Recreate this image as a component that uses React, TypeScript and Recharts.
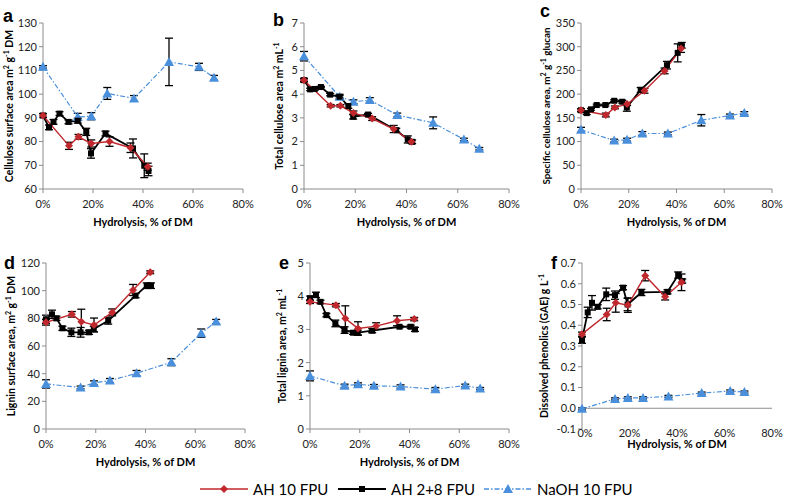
import React from 'react';
import { LineChart, Line, XAxis, YAxis, ErrorBar, ReferenceLine } from 'recharts';

// ---------- Data ----------
const seriesNames = ['AH 10 FPU', 'AH 2+8 FPU', 'NaOH 10 FPU'];
const xTicks = [0, 20, 40, 60, 80];

// hydrolysis (% of DM) per series
const xAH10 = [0, 10.4, 14.2, 19.3, 26.6, 35.0, 41.9];
const xAH28 = [0, 2.4, 4.2, 6.6, 10.2, 13.9, 17.3, 19.2, 25.0, 36.0, 40.5, 42.2];
const xNaOH = [0, 13.9, 19.3, 25.7, 36.4, 50.4, 62.4, 68.4];

// a: cellulose surface area
const aAH10 = [91, 78.2, 82, 79.2, 80, 77.4, 69.4];
const aAH10Err = [0.8, 1.5, 1, 1.5, 2, 2, 1.5];
const aAH28 = [91, 86, 88.3, 91.8, 88.3, 88.8, 84.1, 75, 83.4, 77.1, 69.8, 67.6];
const aAH28Err = [0.8, 1, 1, 0.8, 0.8, 1, 1.5, 2, 1, 4, 5, 2];
const aNaOH = [111.5, 90.4, 90.7, 100.3, 98.2, 113.6, 111.5, 106.9];
const aNaOHErr = [0.5, 1.5, 1.5, 2.5, 1.2, 10, 1.5, 1];

// b: total cellulose area
const bAH10 = [4.59, 3.51, 3.51, 3.21, 2.97, 2.53, 1.99];
const bAH10Err = [0.05, 0.05, 0.05, 0.08, 0.08, 0.15, 0.05];
const bAH28 = [4.59, 4.2, 4.22, 4.3, 3.98, 3.89, 3.5, 3.05, 3.14, 2.48, 2.09, 1.99];
const bAH28Err = [0.08, 0.05, 0.05, 0.03, 0.05, 0.05, 0.1, 0.1, 0.05, 0.08, 0.15, 0.08];
const bNaOH = [5.6, 3.89, 3.68, 3.75, 3.12, 2.79, 2.09, 1.7];
const bNaOHErr = [0.2, 0.1, 0.08, 0.1, 0.08, 0.25, 0.05, 0.05];

// c: specific cellulose area
const cAH10 = [166, 156, 172, 179, 207, 249, 296];
const cAH10Err = [3, 4, 3, 3, 5, 6, 8];
const cAH28 = [166, 160, 168, 177, 177, 186, 184, 172, 209, 261, 287, 303];
const cAH28Err = [3, 3, 2, 2, 2, 2, 3, 8, 5, 8, 19, 6];
const cNaOH = [125, 102, 104, 117, 117, 145, 155, 160];
const cNaOHErr = [5, 3, 3, 4, 3, 12, 3, 3];

// d: lignin surface area
const dAH10 = [77.1, 82.9, 77.6, 75.2, 84.3, 100.5, 113.3];
const dAH10Err = [2, 2, 9, 5, 2.5, 4, 1];
const dAH28 = [79.3, 82.9, 80, 72.8, 69.9, 69.9, 69.9, 72.3, 78.3, 96.4, 103.6, 103.6];
const dAH28Err = [3, 3, 1.5, 1.5, 3, 3.5, 1.5, 2, 2.5, 1.5, 2, 2];
const dNaOH = [32.6, 30, 33.3, 35, 40.3, 48.3, 69.3, 77.7];
const dNaOHErr = [3, 1, 1.5, 1.5, 2, 2.5, 3, 1.5];

// e: total lignin area
const eAH10 = [3.83, 3.73, 3.33, 3.03, 3.1, 3.26, 3.31];
const eAH10Err = [0.05, 0.05, 0.38, 0.2, 0.1, 0.15, 0.05];
const eAH28 = [3.94, 4.04, 3.83, 3.43, 3.18, 2.98, 2.9, 2.9, 2.96, 3.08, 3.08, 3.0];
const eAH28Err = [0.06, 0.08, 0.05, 0.05, 0.1, 0.1, 0.05, 0.08, 0.06, 0.03, 0.05, 0.06];
const eNaOH = [1.6, 1.3, 1.35, 1.3, 1.28, 1.2, 1.31, 1.22];
const eNaOHErr = [0.15, 0.05, 0.04, 0.04, 0.05, 0.05, 0.04, 0.03];

// f: dissolved phenolics
const fAH10 = [0.357, 0.452, 0.508, 0.497, 0.639, 0.537, 0.607];
const fAH10Err = [0.01, 0.03, 0.045, 0.035, 0.025, 0.015, 0.04];
const fAH28 = [0.328, 0.462, 0.508, 0.489, 0.549, 0.545, 0.581, 0.5, 0.558, 0.561, 0.642, 0.613];
const fAH28Err = [0.015, 0.025, 0.035, 0.01, 0.03, 0.02, 0.01, 0.03, 0.015, 0.01, 0.015, 0.01];
const fNaOH = [-0.003, 0.045, 0.05, 0.05, 0.057, 0.073, 0.083, 0.078];
const fNaOHErr = [0.005, 0.005, 0.005, 0.005, 0.005, 0.005, 0.005, 0.005];

// ---------- helpers ----------
const zip = (xs: number[], ys: number[], es: number[]) =>
  xs.map((x, i) => ({ x, y: ys[i], e: es[i] }));

const RED = '#C0282D';
const BLACK = '#000000';
const BLUE = '#4A8FDB';
const AXIS = '#8c8c8c';
const FONT = 'Lato, "Open Sans", sans-serif';

const Diamond = (p: any) => {
  const { cx, cy, index } = p;
  if (cx == null || cy == null) return <g key={index} />;
  return (
    <polygon key={index} points={`${cx},${cy - 4} ${cx + 4},${cy} ${cx},${cy + 4} ${cx - 4},${cy}`} fill={RED} />
  );
};
const Square = (p: any) => {
  const { cx, cy, index } = p;
  if (cx == null || cy == null) return <g key={index} />;
  return <rect key={index} x={cx - 3} y={cy - 3} width={6} height={6} fill={BLACK} />;
};
const Triangle = (p: any) => {
  const { cx, cy, index } = p;
  if (cx == null || cy == null) return <g key={index} />;
  return (
    <polygon key={index} points={`${cx},${cy - 5} ${cx + 5},${cy + 4} ${cx - 5},${cy + 4}`} fill={BLUE} />
  );
};

type PanelCfg = {
  letter: string;
  title: React.ReactNode;
  titleSize: number;
  domain: [number, number];
  ticks: number[];
  dec: number;
  red: number[]; redE: number[];
  black: number[]; blackE: number[];
  blue: number[]; blueE: number[];
  box: { l: number; r: number; t: number; b: number };
  xTickOff: number;
  xTitleY: number;
  yTitleX: number;
  letterPos: [number, number];
  zeroLine?: boolean;
};

const sup = (s: string) => (
  <span style={{ fontSize: 7, verticalAlign: 'super', lineHeight: 0 }}>{s}</span>
);

const panels: PanelCfg[] = [
  {
    letter: 'a',
    title: <>Cellulose surface area m{sup('2')} g{sup('-1')} DM</>, titleSize: 10.5,
    domain: [60, 130], ticks: [60, 70, 80, 90, 100, 110, 120, 130], dec: 0,
    red: aAH10, redE: aAH10Err, black: aAH28, blackE: aAH28Err, blue: aNaOH, blueE: aNaOHErr,
    box: { l: 43, r: 243, t: 23, b: 189 }, xTickOff: 8, xTitleY: 222, yTitleX: 9, letterPos: [3, 24],
  },
  {
    letter: 'b',
    title: <>Total cellulose area m{sup('2')} mL{sup('-1')}</>, titleSize: 10.5,
    domain: [0, 7], ticks: [0, 1, 2, 3, 4, 5, 6, 7], dec: 0,
    red: bAH10, redE: bAH10Err, black: bAH28, blackE: bAH28Err, blue: bNaOH, blueE: bNaOHErr,
    box: { l: 304, r: 509, t: 23, b: 189 }, xTickOff: 8, xTitleY: 222, yTitleX: 279, letterPos: [273, 28],
  },
  {
    letter: 'c',
    title: <>Specific cellulose area, m{sup('2')} g{sup('-1')} glucan</>, titleSize: 9.8,
    domain: [0, 350], ticks: [0, 50, 100, 150, 200, 250, 300, 350], dec: 0,
    red: cAH10, redE: cAH10Err, black: cAH28, blackE: cAH28Err, blue: cNaOH, blueE: cNaOHErr,
    box: { l: 581, r: 772, t: 23, b: 189 }, xTickOff: 8, xTitleY: 222, yTitleX: 546, letterPos: [540, 19],
  },
  {
    letter: 'd',
    title: <>Lignin surface area, m{sup('2')} g{sup('-1')} DM</>, titleSize: 10.5,
    domain: [0, 120], ticks: [0, 20, 40, 60, 80, 100, 120], dec: 0,
    red: dAH10, redE: dAH10Err, black: dAH28, blackE: dAH28Err, blue: dNaOH, blueE: dNaOHErr,
    box: { l: 46, r: 245, t: 263, b: 429 }, xTickOff: 8, xTitleY: 462, yTitleX: 11, letterPos: [4, 271],
  },
  {
    letter: 'e',
    title: <>Total lignin area, m{sup('2')} mL{sup('-1')}</>, titleSize: 10.5,
    domain: [0, 5], ticks: [0, 1, 2, 3, 4, 5], dec: 0,
    red: eAH10, redE: eAH10Err, black: eAH28, blackE: eAH28Err, blue: eNaOH, blueE: eNaOHErr,
    box: { l: 310, r: 509, t: 263, b: 429 }, xTickOff: 8, xTitleY: 462, yTitleX: 282, letterPos: [279, 271],
  },
  {
    letter: 'f',
    title: <>Dissolved phenolics (GAE) g L{sup('-1')}</>, titleSize: 10.5,
    domain: [-0.1, 0.7], ticks: [-0.1, 0, 0.1, 0.2, 0.3, 0.4, 0.5, 0.6, 0.7], dec: 1,
    red: fAH10, redE: fAH10Err, black: fAH28, blackE: fAH28Err, blue: fNaOH, blueE: fNaOHErr,
    box: { l: 582, r: 772, t: 263, b: 429 }, xTickOff: -3, xTitleY: 444, yTitleX: 544, letterPos: [551, 271],
    zeroLine: true,
  },
];

const YW = 40;
const MT = 8;
const MR = 16;
const XH = 30;

function Panel({ cfg }: { cfg: PanelCfg }) {
  const { l, r, t, b } = cfg.box;
  const w = YW + (r - l) + MR;
  const h = MT + (b - t) + XH;
  const redData = zip(xAH10, cfg.red, cfg.redE);
  const blackData = zip(xAH28, cfg.black, cfg.blackE);
  const blueData = zip(xNaOH, cfg.blue, cfg.blueE);
  const XTick = (p: any) => (
    <text
      x={p.x + (cfg.zeroLine && p.payload.value === 0 ? 3 : 0)}
      y={p.y + cfg.xTickOff}
      textAnchor="middle"
      dominantBaseline="central"
      fontSize={11}
      fontFamily={FONT}
      fill="#222"
    >
      {p.payload.value}%
    </text>
  );
  return (
    <div style={{ position: 'absolute', left: l - YW, top: t - MT }}>
      <LineChart width={w} height={h} margin={{ top: MT, right: MR, bottom: 0, left: 0 }}>
        <XAxis
          type="number"
          dataKey="x"
          domain={[0, 80]}
          ticks={xTicks}
          height={XH}
          axisLine={cfg.zeroLine ? false : { stroke: AXIS }}
          tickLine={cfg.zeroLine ? false : { stroke: AXIS }}
          tickSize={4}
          tickMargin={2}
          tick={XTick}
          interval={0}
        />
        <YAxis
          type="number"
          domain={cfg.domain}
          ticks={cfg.ticks}
          width={YW}
          axisLine={{ stroke: AXIS }}
          tickLine={{ stroke: AXIS }}
          tickSize={4}
          tickMargin={2}
          interval={0}
          tickFormatter={(v: number) => v.toFixed(cfg.dec)}
          tick={{ fontSize: 11, fontFamily: FONT, fill: '#222' }}
        />
        {cfg.zeroLine && <ReferenceLine y={0} stroke={AXIS} />}
        <Line
          data={blueData}
          dataKey="y"
          name={seriesNames[2]}
          stroke={BLUE}
          strokeWidth={1.2}
          strokeDasharray="5 2 1.5 2"
          dot={Triangle}
          activeDot={false}
          isAnimationActive={false}
        >
          <ErrorBar dataKey="e" direction="y" width={4} stroke="#000" strokeWidth={1.3} />
        </Line>
        <Line
          data={blackData}
          dataKey="y"
          name={seriesNames[1]}
          stroke={BLACK}
          strokeWidth={1.8}
          dot={Square}
          activeDot={false}
          isAnimationActive={false}
        >
          <ErrorBar dataKey="e" direction="y" width={4} stroke="#000" strokeWidth={1.3} />
        </Line>
        <Line
          data={redData}
          dataKey="y"
          name={seriesNames[0]}
          stroke={RED}
          strokeWidth={1.4}
          dot={Diamond}
          activeDot={false}
          isAnimationActive={false}
        >
          <ErrorBar dataKey="e" direction="y" width={4} stroke="#000" strokeWidth={1.3} />
        </Line>
      </LineChart>
    </div>
  );
}

function Titles({ cfg }: { cfg: PanelCfg }) {
  const { l, r, t, b } = cfg.box;
  return (
    <>
      <div
        style={{
          position: 'absolute',
          left: cfg.letterPos[0],
          top: cfg.letterPos[1] - 17,
          fontFamily: '"Liberation Sans", Arial, sans-serif',
          fontWeight: 'bold',
          fontSize: 18,
          lineHeight: '18px',
        }}
      >
        {cfg.letter}
      </div>
      <div
        style={{
          position: 'absolute',
          left: (l + r) / 2,
          top: cfg.xTitleY,
          transform: 'translate(-50%, -50%)',
          whiteSpace: 'nowrap',
          fontFamily: FONT,
          fontWeight: 'bold',
          fontSize: 11,
          lineHeight: '12px',
        }}
      >
        Hydrolysis, % of DM
      </div>
      <div
        style={{
          position: 'absolute',
          left: cfg.yTitleX,
          top: (t + b) / 2,
          transform: 'translate(-50%, -50%) rotate(-90deg)',
          whiteSpace: 'nowrap',
          fontFamily: FONT,
          fontWeight: 'bold',
          fontSize: cfg.titleSize,
          lineHeight: '12px',
        }}
      >
        {cfg.title}
      </div>
    </>
  );
}

function LegendBox() {
  const items = [
    { name: seriesNames[0], x: 200, color: RED, dash: undefined as string | undefined, shape: 'diamond' },
    { name: seriesNames[1], x: 338, color: BLACK, dash: undefined, shape: 'square' },
    { name: seriesNames[2], x: 484, color: BLUE, dash: '5 2 1.5 2', shape: 'triangle' },
  ];
  return (
    <svg width={785} height={24} style={{ position: 'absolute', left: 0, top: 476 }}>
      {items.map((it) => {
        const cy = 13;
        const mx = it.x + 24;
        return (
          <g key={it.name}>
            <line
              x1={it.x}
              x2={it.x + 48}
              y1={cy}
              y2={cy}
              stroke={it.color}
              strokeWidth={it.shape === 'square' ? 1.8 : 1.3}
              strokeDasharray={it.dash}
            />
            {it.shape === 'diamond' && (
              <polygon points={`${mx},${cy - 4} ${mx + 4},${cy} ${mx},${cy + 4} ${mx - 4},${cy}`} fill={RED} />
            )}
            {it.shape === 'square' && <rect x={mx - 3} y={cy - 3} width={6} height={6} fill={BLACK} />}
            {it.shape === 'triangle' && (
              <polygon points={`${mx},${cy - 5} ${mx + 5},${cy + 4} ${mx - 5},${cy + 4}`} fill={BLUE} />
            )}
            <text x={it.x + 53} y={cy} dominantBaseline="central" fontSize={15} fontFamily={FONT} fill="#000">
              {it.name}
            </text>
          </g>
        );
      })}
    </svg>
  );
}

export default function App() {
  return (
    <div
      style={{
        position: 'absolute',
        left: 0,
        top: 0,
        width: 785,
        height: 500,
        background: '#fff',
        overflow: 'hidden',
        color: '#000',
      }}
    >
      {panels.map((p) => (
        <Panel key={p.letter} cfg={p} />
      ))}
      {panels.map((p) => (
        <Titles key={'t' + p.letter} cfg={p} />
      ))}
      <LegendBox />
    </div>
  );
}
